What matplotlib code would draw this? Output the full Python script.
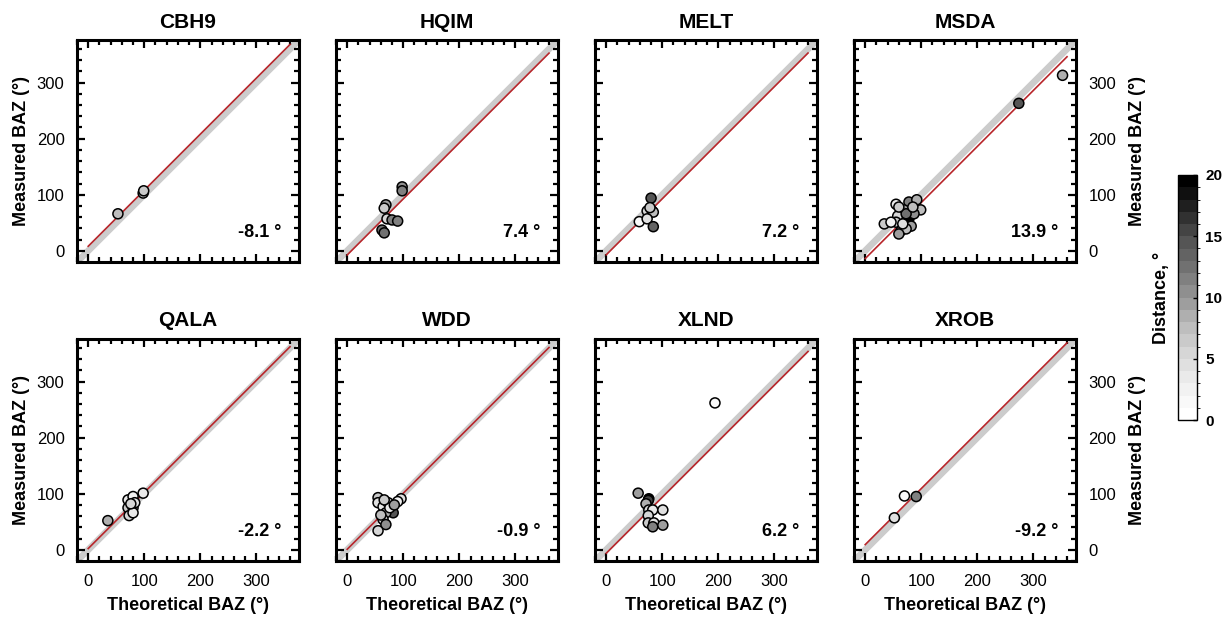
import matplotlib.pyplot as plt
from matplotlib.ticker import MultipleLocator
from matplotlib.colors import BoundaryNorm
import numpy as np

plt.rcParams['font.family'] = ['Liberation Sans', 'DejaVu Sans']

stations = ['CBH9', 'HQIM', 'MELT', 'MSDA', 'QALA', 'WDD', 'XLND', 'XROB']
offsets = [-8.1, 7.4, 7.2, 13.9, -2.2, -0.9, 6.2, -9.2]

# theoretical BAZ, measured BAZ, epicentral distance (deg) per station
theo = {
    'CBH9': [53, 98, 99],
    'HQIM': [98, 98, 69, 66, 71, 80, 90, 62, 66],
    'MELT': [80, 73, 82, 84, 59, 73, 84, 78],
    'MSDA': [352, 274, 34, 55, 78, 92, 99, 69, 58, 78, 55, 64, 82, 73, 87, 67, 73, 60, 85, 46, 60],
    'QALA': [35, 98, 71, 71, 73, 80, 80, 83, 80, 76],
    'WDD': [55, 55, 64, 73, 96, 90, 82, 69, 64, 69, 55, 60, 76, 66, 84],
    'XLND': [194, 57, 76, 75, 71, 76, 83, 101, 75, 75, 85, 83, 101],
    'XROB': [70, 91, 52],
}
meas = {
    'CBH9': [66, 103, 107],
    'HQIM': [114, 107, 82, 76, 57, 55, 53, 37, 32],
    'MELT': [94, 71, 71, 69, 52, 57, 43, 77],
    'MSDA': [313, 263, 48, 83, 87, 91, 73, 73, 62, 57, 51, 36, 44, 39, 66, 48, 66, 78, 78, 51, 30],
    'QALA': [52, 101, 89, 75, 61, 95, 75, 84, 66, 82],
    'WDD': [93, 84, 77, 84, 91, 86, 66, 66, 54, 45, 34, 62, 75, 89, 80],
    'XLND': [262, 101, 91, 88, 82, 71, 71, 71, 61, 48, 48, 41, 44],
    'XROB': [96, 95, 57],
}
dist = {
    'CBH9': [7, 6, 6],
    'HQIM': [10, 11, 9, 6, 5, 11, 11, 12, 12],
    'MELT': [14, 5, 3, 7, 1, 4, 13, 6],
    'MSDA': [8, 14, 6, 3, 11, 8, 7, 9, 5, 20, 6, 11, 9, 7, 10, 4, 12, 6, 7, 2, 9],
    'QALA': [8, 3, 3, 6, 5, 2, 9, 4, 3, 5],
    'WDD': [6, 4, 3, 5, 4, 2, 14, 8, 4, 10, 5, 7, 3, 6, 9],
    'XLND': [1, 9, 20, 15, 8, 5, 3, 4, 5, 6, 4, 11, 9],
    'XROB': [1, 11, 4],
}

cmap = plt.get_cmap('Greys', 20)
norm = BoundaryNorm(np.arange(0, 21), cmap.N)

W, H = 1222, 617
fig = plt.figure(figsize=(W / 100, H / 100), dpi=100)

lefts = [77, 336, 595, 854]
tops = [40, 339]
size = 222

for i, name in enumerate(stations):
    row, col = divmod(i, 4)
    ax = fig.add_axes([lefts[col] / W, (H - tops[row] - size) / H, size / W, size / H])

    ax.plot([-30, 400], [-30, 400], color='#cccccc', lw=4.8, zorder=1, solid_capstyle='butt')
    fx = np.array([0, 360])
    ax.plot(fx, fx - offsets[i], color='#b8262b', lw=1.2, zorder=2)
    ax.scatter(theo[name], meas[name], c=dist[name], cmap=cmap, norm=norm,
               s=52, edgecolors='black', linewidths=1.1, zorder=3)

    ax.set_xlim(-20, 376)
    ax.set_ylim(-20, 376)
    ax.xaxis.set_major_locator(MultipleLocator(100))
    ax.yaxis.set_major_locator(MultipleLocator(100))
    ax.xaxis.set_minor_locator(MultipleLocator(20))
    ax.yaxis.set_minor_locator(MultipleLocator(20))
    ax.tick_params(which='both', direction='in', top=True, right=True, width=1.6,
                   labelsize=12, pad=9)
    ax.tick_params(which='major', length=6)
    ax.tick_params(which='minor', length=3.5)
    for sp in ax.spines.values():
        sp.set_linewidth(2.2)

    ax.set_title(name, fontsize=15, fontweight='bold', pad=9)
    ax.text(0.92, 0.135, f'{offsets[i]} °', transform=ax.transAxes,
            ha='right', va='center', fontsize=13, fontweight='bold')

    ax.tick_params(labelbottom=(row == 1), labelleft=(col == 0), labelright=(col == 3))
    if row == 1:
        ax.set_xlabel('Theoretical BAZ (°)', fontsize=13, fontweight='bold', labelpad=6)
    if col == 0:
        ax.set_ylabel('Measured BAZ (°)', fontsize=13, fontweight='bold', labelpad=5)
    if col == 3:
        ax.yaxis.set_label_position('right')
        ax.set_ylabel('Measured BAZ (°)', fontsize=13, fontweight='bold', labelpad=9)

cax = fig.add_axes([1178 / W, (H - 420) / H, 19 / W, 245 / H])
sm = plt.cm.ScalarMappable(cmap=cmap, norm=norm)
cb = fig.colorbar(sm, cax=cax, ticks=[0, 5, 10, 15, 20])
cb.outline.set_linewidth(1.0)
cax.tick_params(labelsize=11, length=3, direction='in', width=1, pad=6)
for lab in cax.get_yticklabels():
    lab.set_fontweight('bold')
cax.yaxis.set_label_position('left')
cax.set_ylabel('Distance, °', fontsize=13, fontweight='bold', labelpad=6)

fig.savefig('out.png', dpi=100)
